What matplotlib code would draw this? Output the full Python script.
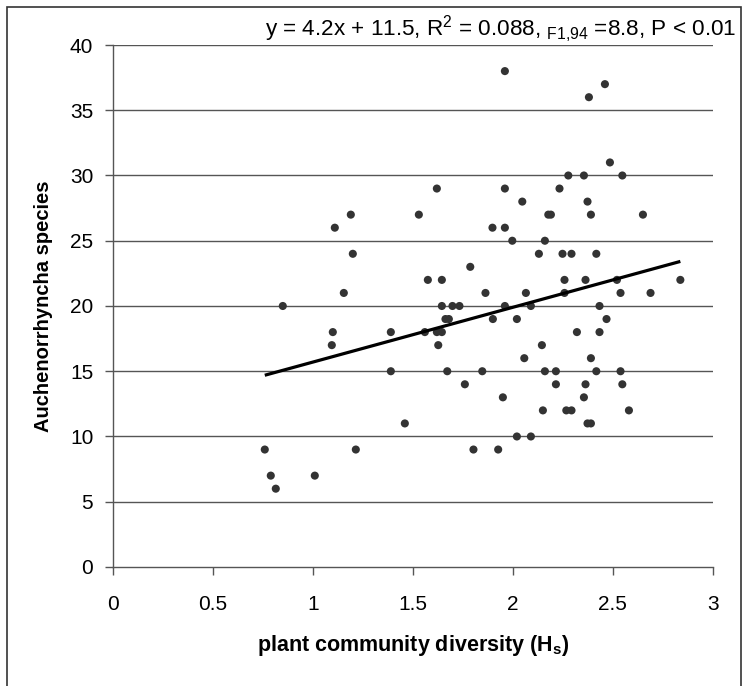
import matplotlib
matplotlib.use("Agg")
import matplotlib.pyplot as plt
from matplotlib.patches import Rectangle
import numpy as np

plt.rcParams['font.family'] = ['Liberation Sans', 'DejaVu Sans']
plt.rcParams['mathtext.fontset'] = 'custom'
plt.rcParams['mathtext.rm'] = 'Liberation Sans'
plt.rcParams['mathtext.it'] = 'Liberation Sans:italic'
plt.rcParams['mathtext.bf'] = 'Liberation Sans:bold'

diversity = [0.76, 0.79, 0.815, 0.85, 1.01, 1.095, 1.10, 1.11, 1.155, 1.19,
             1.20, 1.215, 1.39, 1.39, 1.46, 1.53, 1.56, 1.575, 1.62, 1.62,
             1.627, 1.645, 1.645, 1.645, 1.663, 1.68, 1.672, 1.698, 1.733, 1.76,
             1.787, 1.803, 1.847, 1.863, 1.898, 1.90, 1.9265, 1.95, 1.96, 1.96,
             1.96, 1.96, 1.997, 2.02, 2.02, 2.047, 2.057, 2.065, 2.09, 2.09,
             2.13, 2.145, 2.15, 2.16, 2.16, 2.177, 2.19, 2.215, 2.215, 2.233,
             2.248, 2.258, 2.258, 2.267, 2.277, 2.293, 2.293, 2.32, 2.355, 2.355,
             2.363, 2.363, 2.373, 2.373, 2.38, 2.39, 2.39, 2.39, 2.417, 2.417,
             2.433, 2.433, 2.46, 2.468, 2.485, 2.52, 2.538, 2.538, 2.547, 2.547,
             2.58, 2.65, 2.688, 2.837]
species = [9, 7, 6, 20, 7, 17, 18, 26, 21, 27,
           24, 9, 18, 15, 11, 27, 18, 22, 29, 18,
           17, 22, 20, 18, 19, 19, 15, 20, 20, 14,
           23, 9, 15, 21, 26, 19, 9, 13, 38, 29,
           26, 20, 25, 19, 10, 28, 16, 21, 20, 10,
           24, 17, 12, 25, 15, 27, 27, 15, 14, 29,
           24, 22, 21, 12, 30, 24, 12, 18, 30, 13,
           22, 14, 28, 11, 36, 27, 16, 11, 24, 15,
           20, 18, 37, 19, 31, 22, 21, 15, 30, 14,
           12, 27, 21, 22]

slope = 4.2
intercept = 11.5
x_ticks = [0, 0.5, 1, 1.5, 2, 2.5, 3]
x_tick_labels = ['0', '0.5', '1', '1.5', '2', '2.5', '3']
y_ticks = [0, 5, 10, 15, 20, 25, 30, 35, 40]

fig = plt.figure(figsize=(7.45, 6.86), dpi=100)
ax = fig.add_axes([0.1513, 0.1735, 0.8057, 0.7609])

for yv in y_ticks[1:]:
    ax.axhline(yv, color='#555555', lw=1.0, zorder=1)

ax.scatter(diversity, species, s=34, color='#333333', edgecolors='none', zorder=3)

xl = np.array([min(diversity), max(diversity)])
ax.plot(xl, slope * xl + intercept, color='black', lw=2.3, zorder=4, solid_capstyle='butt')

ax.set_xlim(0, 3)
ax.set_ylim(0, 40)
ax.set_xticks(x_ticks)
ax.set_xticklabels(x_tick_labels)
ax.set_yticks(y_ticks)
for s in ['top', 'right']:
    ax.spines[s].set_visible(False)
for s in ['left', 'bottom']:
    ax.spines[s].set_color('#555555')
    ax.spines[s].set_linewidth(1.0)
ax.tick_params(axis='both', direction='out', length=6, width=1.0, color='#555555',
               labelsize=15, labelcolor='black')
ax.tick_params(axis='x', pad=14)
ax.tick_params(axis='y', pad=8)

ax.set_xlabel('plant community diversity (H$_\\mathbf{s}$)', fontsize=15.5, fontweight='bold', labelpad=14)
ax.set_ylabel('Auchenorrhyncha species', fontsize=14.5, fontweight='bold', labelpad=12)

fig.text(0.989, 0.958, 'y = 4.2x + 11.5, R$^2$ = 0.088, $_{\\mathrm{F1{,}94}}$ =8.8, P < 0.01',
         ha='right', va='center', fontsize=16.2)

fig.patches.append(Rectangle((0.009, -0.02), 0.986, 1.01, transform=fig.transFigure,
                             fill=False, edgecolor='#333333', lw=1.2))

fig.savefig('out.png', dpi=100)
